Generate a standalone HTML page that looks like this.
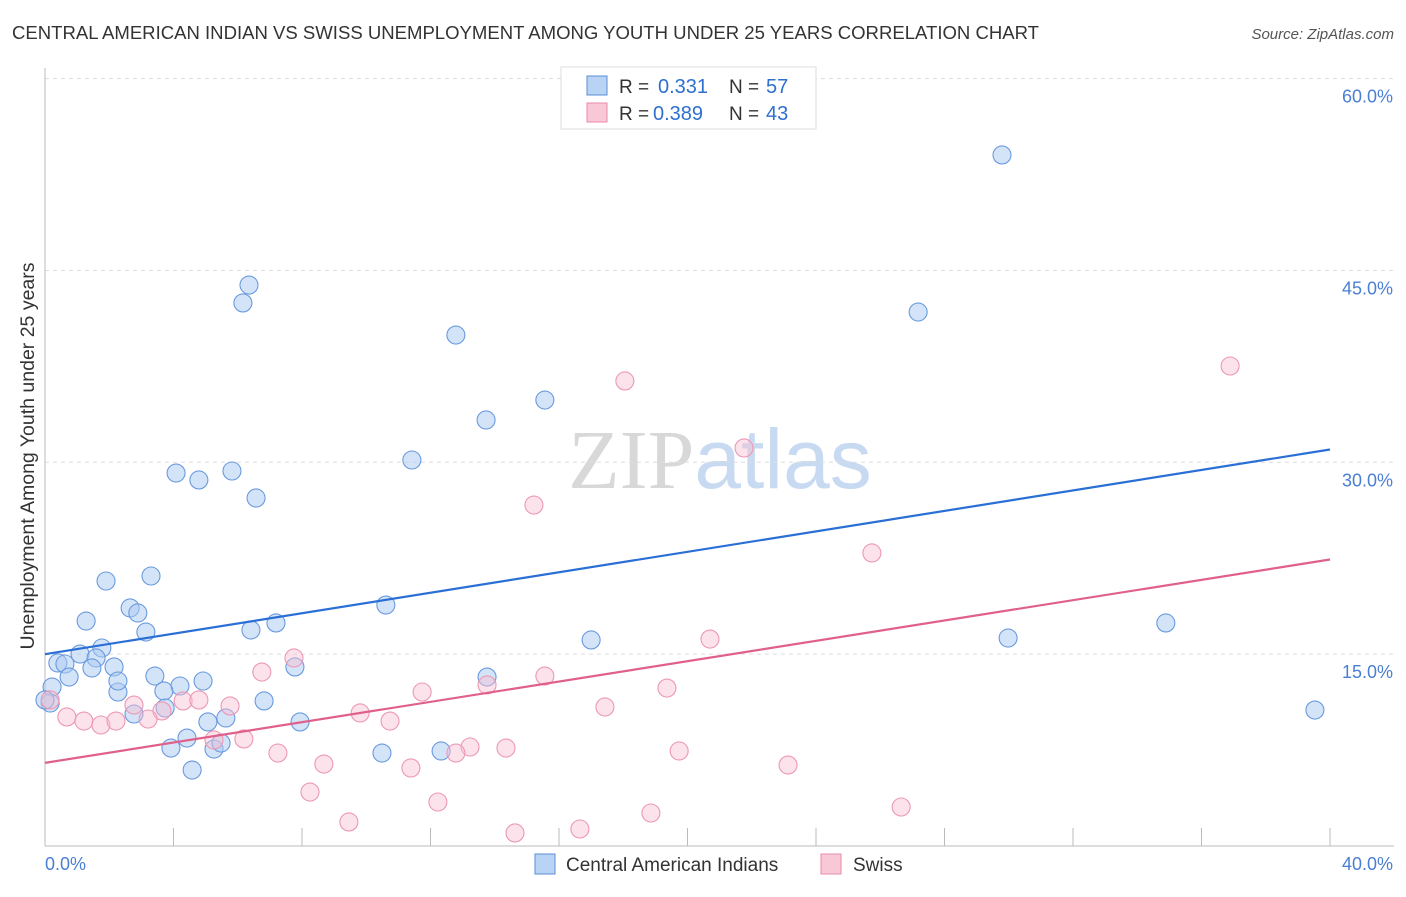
<!DOCTYPE html>
<html><head><meta charset="utf-8"><style>
body{margin:0;background:#fff;font-family:"Liberation Sans",sans-serif}
</style></head><body>
<svg id="chart" width="1406" height="892" xmlns="http://www.w3.org/2000/svg" font-family="Liberation Sans, sans-serif">
<text x="12" y="39" font-size="18.3" fill="#333" textLength="1027" lengthAdjust="spacingAndGlyphs">CENTRAL AMERICAN INDIAN VS SWISS UNEMPLOYMENT AMONG YOUTH UNDER 25 YEARS CORRELATION CHART</text>
<text x="1394" y="39" font-size="15" fill="#555" text-anchor="end" font-style="italic">Source: ZipAtlas.com</text>
<text x="720" y="488" font-size="84" text-anchor="middle"><tspan fill="#d8d8d8" font-family="Liberation Serif, serif">ZIP</tspan><tspan fill="#c8daf2">atlas</tspan></text>
<g id="grid"></g><g id="axes"></g><g id="pts"></g><g id="lines"></g>
<g>
<rect x="561" y="67" width="255" height="62" fill="#fff" stroke="#ddd"/>
<rect x="587" y="76" width="20" height="19" fill="#b9d3f5" stroke="#5a8fd8"/>
<text x="619" y="93" font-size="19" fill="#333">R =</text>
<text x="658" y="93" font-size="20" fill="#2f6fd0">0.331</text>
<text x="729" y="93" font-size="19" fill="#333">N =</text>
<text x="766" y="93" font-size="20" fill="#2f6fd0">57</text>
<rect x="587" y="103" width="20" height="19" fill="#f9c8d7" stroke="#e88aa8"/>
<text x="619" y="120" font-size="19" fill="#333">R =</text>
<text x="653" y="120" font-size="20" fill="#2f6fd0">0.389</text>
<text x="729" y="120" font-size="19" fill="#333">N =</text>
<text x="766" y="120" font-size="20" fill="#2f6fd0">43</text>
</g>
<g>
<rect x="535" y="854" width="20" height="20" fill="#b9d3f5" stroke="#5a8fd8"/>
<text x="566" y="871" font-size="19" fill="#333">Central American Indians</text>
<rect x="821" y="854" width="20" height="20" fill="#f9c8d7" stroke="#e88aa8"/>
<text x="853" y="871" font-size="19" fill="#333">Swiss</text>
</g>
</svg>
<script>
const yTicks=[15,30,45,60];
const xTickLabels=["0.0%","40.0%"];
const bluePts=[[1002,155],[249,285],[243,303],[918,312],[456,335],[545,400],[486,420],[412,460],[176,473],[232,471],[199,480],[256,498],[151,576],[106,581],[130,608],[138,613],[386,605],[86,621],[146,632],[251,630],[276,623],[591,640],[1008,638],[1166,623],[102,648],[80,654],[96,658],[58,663],[65,664],[92,668],[114,667],[69,677],[155,676],[295,667],[487,677],[118,692],[180,686],[203,681],[164,691],[52,687],[50,703],[264,701],[165,708],[134,714],[208,722],[226,718],[300,722],[1315,710],[187,738],[171,748],[214,749],[221,743],[382,753],[441,751],[192,770],[118,681],[45,700]].map(p=>[+((p[0]-45)/32.125).toFixed(2),+((846-p[1])/12.79).toFixed(2)]);
const pinkPts=[[1230,366],[625,381],[744,448],[534,505],[872,553],[710,639],[294,658],[262,672],[545,676],[487,685],[667,688],[422,692],[230,706],[183,701],[199,700],[605,707],[134,705],[162,711],[360,713],[390,721],[148,719],[67,717],[84,721],[101,725],[116,721],[244,739],[214,740],[470,747],[456,753],[506,748],[679,751],[278,753],[324,764],[411,768],[788,765],[310,792],[438,802],[349,822],[515,833],[580,829],[651,813],[901,807],[50,700]].map(p=>[+((p[0]-45)/32.125).toFixed(2),+((846-p[1])/12.79).toFixed(2)]);
const blueLine=[[0,15.0],[40,31.0]];
const pinkLine=[[0,6.5],[40,22.4]];
const X=v=>45+v*32.125, Y=v=>846-v*12.79;
const NS="http://www.w3.org/2000/svg";
function mk(t,a,p){const e=document.createElementNS(NS,t);for(const k in a)e.setAttribute(k,a[k]);p.appendChild(e);return e;}
const grid=document.getElementById('grid'),axes=document.getElementById('axes');
yTicks.forEach(t=>{const l=mk('line',{x1:45,y1:Y(t),x2:1394,y2:Y(t),stroke:'#ddd','stroke-dasharray':'4,4'},grid);

const tx=mk('text',{x:1393,y:Y(t)+24,'font-size':18,fill:'#4a7fd4','text-anchor':'end'},axes);tx.textContent=t.toFixed(1)+'%';
});
mk('line',{x1:45,y1:68,x2:45,y2:846,stroke:'#bbb'},axes);
mk('line',{x1:45,y1:846,x2:1394,y2:846,stroke:'#bbb'},axes);
for(let i=1;i<=10;i++){mk('line',{x1:X(i*4),y1:828,x2:X(i*4),y2:846,stroke:'#bbb'},axes);}
const a=mk('text',{x:45,y:870,'font-size':18,fill:'#4a7fd4'},axes);a.textContent=xTickLabels[0];

const b=mk('text',{x:1393,y:870,'font-size':18,fill:'#4a7fd4','text-anchor':'end'},axes);b.textContent=xTickLabels[1];

const yt=mk('text',{x:34,y:456,'font-size':19.5,fill:'#333','text-anchor':'middle',transform:'rotate(-90 34 456)'},axes);yt.textContent='Unemployment Among Youth under 25 years';

const pts=document.getElementById('pts');
bluePts.forEach(p=>{const c=mk('circle',{cx:X(p[0]),cy:Y(p[1]),r:9,fill:'rgba(170,202,242,0.5)',stroke:'#6a9ade','stroke-width':1.1},pts);
});
pinkPts.forEach(p=>{const c=mk('circle',{cx:X(p[0]),cy:Y(p[1]),r:9,fill:'rgba(248,190,210,0.45)',stroke:'#ec98b4','stroke-width':1.1},pts);
});
const lines=document.getElementById('lines');
const l1=mk('line',{x1:X(blueLine[0][0]),y1:Y(blueLine[0][1]),x2:X(blueLine[1][0]),y2:Y(blueLine[1][1]),stroke:'#2a6fd6','stroke-width':2.2},lines);

const l2=mk('line',{x1:X(pinkLine[0][0]),y1:Y(pinkLine[0][1]),x2:X(pinkLine[1][0]),y2:Y(pinkLine[1][1]),stroke:'#e0608a','stroke-width':2.2},lines);

</script>
</body></html>
